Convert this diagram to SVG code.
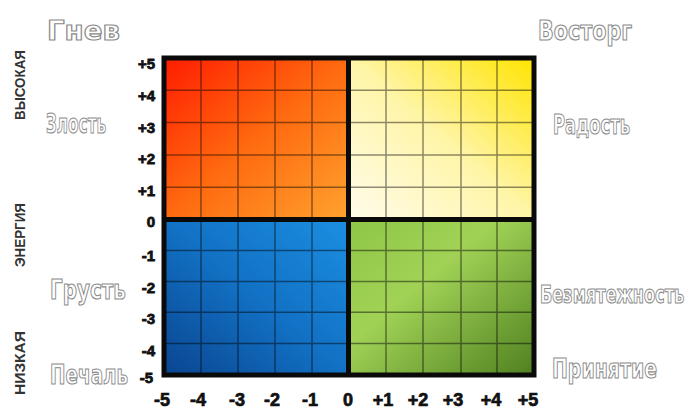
<svg xmlns="http://www.w3.org/2000/svg" width="692" height="412" viewBox="0 0 692 412">
<style>
.q{font-family:"DejaVu Sans Condensed","DejaVu Sans","Liberation Sans",sans-serif;font-weight:bold;font-size:27px;fill:#ffffff;stroke:#8a8a8a;stroke-width:1.1px;}
.ty{font-family:"Liberation Sans",Arial,sans-serif;font-weight:bold;font-size:15px;fill:#111;stroke:#111;stroke-width:0.8px;text-anchor:end;}
.tx{font-family:"Liberation Sans",Arial,sans-serif;font-weight:bold;font-size:18px;fill:#111;stroke:#111;stroke-width:0.7px;text-anchor:middle;}
.v{font-family:"Liberation Sans",Arial,sans-serif;font-weight:bold;font-size:15px;fill:#333;}
.g{stroke:#000;stroke-opacity:0.45;stroke-width:1.5;fill:none;}
.fr{stroke:#0a0a0a;stroke-width:5;fill:none;}
</style>
<defs>
<linearGradient id="gTL" x1="0" y1="0" x2="1" y2="1">
<stop offset="0" stop-color="#ff1c00"/><stop offset="0.5" stop-color="#ff6a10"/><stop offset="1" stop-color="#ffa22e"/>
</linearGradient>
<linearGradient id="gTR" x1="0" y1="1" x2="1" y2="0">
<stop offset="0" stop-color="#fffcec"/><stop offset="0.5" stop-color="#fff5a8"/><stop offset="1" stop-color="#ffe400"/>
</linearGradient>
<linearGradient id="gBL" x1="0" y1="1" x2="1" y2="0">
<stop offset="0" stop-color="#0a4590"/><stop offset="0.5" stop-color="#1271c4"/><stop offset="1" stop-color="#1b8fe2"/>
</linearGradient>
<linearGradient id="gBR" x1="0" y1="0" x2="1" y2="1">
<stop offset="0" stop-color="#8ec646"/><stop offset="0.4" stop-color="#a1d256"/><stop offset="1" stop-color="#4f8020"/>
</linearGradient>
</defs>

<g id="quadrant-anger">
<rect x="164" y="58" width="184.5" height="161.5" fill="url(#gTL)"/>
<path class="g" d="M201 58V219.5M238 58V219.5M275 58V219.5M312 58V219.5M164 90.3H348.5M164 122.6H348.5M164 154.9H348.5M164 187.2H348.5"/>
</g>
<g id="quadrant-joy">
<rect x="348.5" y="58" width="185.5" height="161.5" fill="url(#gTR)"/>
<path class="g" d="M386 58V219.5M423 58V219.5M461 58V219.5M497 58V219.5M348.5 90.3H534M348.5 122.6H534M348.5 154.9H534M348.5 187.2H534"/>
</g>
<g id="quadrant-sadness">
<rect x="164" y="219.5" width="184.5" height="155.5" fill="url(#gBL)"/>
<path class="g" d="M201 219.5V375M238 219.5V375M275 219.5V375M312 219.5V375M164 250.6H348.5M164 281.5H348.5M164 312.2H348.5M164 343.5H348.5"/>
</g>
<g id="quadrant-calm">
<rect x="348.5" y="219.5" width="185.5" height="155.5" fill="url(#gBR)"/>
<path class="g" d="M386 219.5V375M423 219.5V375M461 219.5V375M497 219.5V375M348.5 250.6H534M348.5 281.5H534M348.5 312.2H534M348.5 343.5H534"/>
</g>

<g id="connectors">
<rect class="fr" x="164" y="58" width="370" height="317"/>
<line class="fr" x1="348.5" y1="58" x2="348.5" y2="375"/>
<line class="fr" x1="164" y1="219.5" x2="534" y2="219.5"/>
</g>

<g id="y-axis">
<text class="ty" x="155" y="68.5">+5</text>
<text class="ty" x="155" y="100.5">+4</text>
<text class="ty" x="155" y="132.5">+3</text>
<text class="ty" x="155" y="163.5">+2</text>
<text class="ty" x="155" y="195.5">+1</text>
<text class="ty" x="155" y="226.5">0</text>
<text class="ty" x="155" y="260.5">-1</text>
<text class="ty" x="155" y="292.5">-2</text>
<text class="ty" x="155" y="323.5">-3</text>
<text class="ty" x="155" y="355.5">-4</text>
<text class="ty" x="153" y="383">-5</text>
</g>
<g id="x-axis">
<text class="tx" x="162" y="406">-5</text>
<text class="tx" x="198" y="406">-4</text>
<text class="tx" x="237" y="406">-3</text>
<text class="tx" x="272" y="406">-2</text>
<text class="tx" x="310" y="406">-1</text>
<text class="tx" x="348" y="406">0</text>
<text class="tx" x="383" y="406">+1</text>
<text class="tx" x="418" y="406">+2</text>
<text class="tx" x="453" y="406">+3</text>
<text class="tx" x="491" y="406">+4</text>
<text class="tx" x="528" y="406">+5</text>
</g>

<g id="energy-axis">
<text class="v" transform="translate(25,120) rotate(-90)" textLength="70" lengthAdjust="spacingAndGlyphs">ВЫСОКАЯ</text>
<text class="v" transform="translate(25,267) rotate(-90)" textLength="64" lengthAdjust="spacingAndGlyphs">ЭНЕРГИЯ</text>
<text class="v" transform="translate(25,331) rotate(-90)" text-anchor="end" textLength="64" lengthAdjust="spacingAndGlyphs">НИЗКАЯ</text>
</g>

<g id="label-gnev"><text class="q" x="47" y="40" textLength="73" lengthAdjust="spacingAndGlyphs">Гнев</text></g>
<g id="label-vostorg"><text class="q" x="538" y="40" textLength="94" lengthAdjust="spacingAndGlyphs">Восторг</text></g>
<g id="label-zlost"><text class="q" transform="translate(46,133) scale(0.63,1)">Злость</text></g>
<g id="label-radost"><text class="q" x="553" y="134" textLength="77" lengthAdjust="spacingAndGlyphs">Радость</text></g>
<g id="label-grust"><text class="q" transform="translate(50,299) scale(0.82,1)">Грусть</text></g>
<g id="label-bezmyatezhnost"><text class="q" transform="translate(540,303) scale(0.72,1)" style="font-size:25px">Безмятежность</text></g>
<g id="label-pechal"><text class="q" transform="translate(50,384) scale(0.76,1)">Печаль</text></g>
<g id="label-prinyatie"><text class="q" x="552" y="378" textLength="105" lengthAdjust="spacingAndGlyphs">Принятие</text></g>
</svg>
